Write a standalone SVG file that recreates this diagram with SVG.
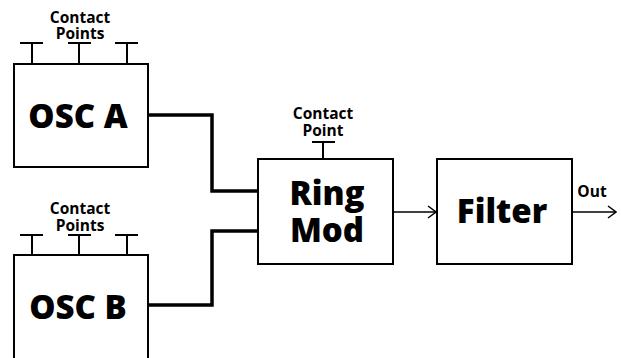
<svg xmlns="http://www.w3.org/2000/svg" width="621" height="358" viewBox="0 0 621 358">
<defs>
<style>
.box{fill:#fff;stroke:#000;stroke-width:2}
.cp{fill:none;stroke:#000;stroke-width:2}
.wire{fill:none;stroke:#000;stroke-width:3.5}
.thin{fill:none;stroke:#000;stroke-width:1.5}
.big{font-family:"Open Sans",sans-serif;font-weight:800;font-size:33px;text-anchor:middle;fill:#000}
.small{font-family:"Open Sans",sans-serif;font-weight:700;font-size:15.5px;text-anchor:middle;fill:#000}
</style>
<marker id="chev" markerWidth="10" markerHeight="14" refX="9" refY="7" orient="auto" markerUnits="userSpaceOnUse">
<path d="M1,1 L9,7 L1,13" fill="none" stroke="#000" stroke-width="1.5"/>
</marker>
</defs>
<rect width="621" height="358" fill="#fff"/>
<g id="connectors">
<polyline class="wire" points="148,115 212,115 212,191 258,191"/>
<polyline class="wire" points="148,305 212,305 212,231 258,231"/>
<line class="thin" x1="393" y1="212" x2="436" y2="212" marker-end="url(#chev)"/>
<line class="thin" x1="572" y1="212" x2="616" y2="212" marker-end="url(#chev)"/>
</g>
<g id="oscA">
<rect class="box" x="14" y="64" width="134" height="103"/>
<text class="big" x="78" y="128">OSC A</text>
<path class="cp" d="M20,43H43M32,43V64M68,43H91M79,43V64M115,43H138M127,43V64"/>
<text class="small" x="80" y="23">Contact</text>
<text class="small" x="80" y="39">Points</text>
</g>
<g id="oscB">
<rect class="box" x="14" y="255" width="134" height="110"/>
<text class="big" x="78" y="319">OSC B</text>
<path class="cp" d="M20,235H43M32,235V255M68,235H91M79,235V255M115,235H138M127,235V255"/>
<text class="small" x="80" y="214">Contact</text>
<text class="small" x="80" y="231">Points</text>
</g>
<g id="ringmod">
<rect class="box" x="258" y="159" width="135" height="105"/>
<text class="big" x="327" y="205">Ring</text>
<text class="big" x="327" y="242">Mod</text>
<path class="cp" d="M312,142H335M323,142V159"/>
<text class="small" x="323" y="119">Contact</text>
<text class="small" x="323" y="136">Point</text>
</g>
<g id="filter">
<rect class="box" x="437" y="159" width="135" height="105"/>
<text class="big" x="502" y="223">Filter</text>
</g>
<g id="out">
<text class="small" x="592" y="197">Out</text>
</g>
</svg>
